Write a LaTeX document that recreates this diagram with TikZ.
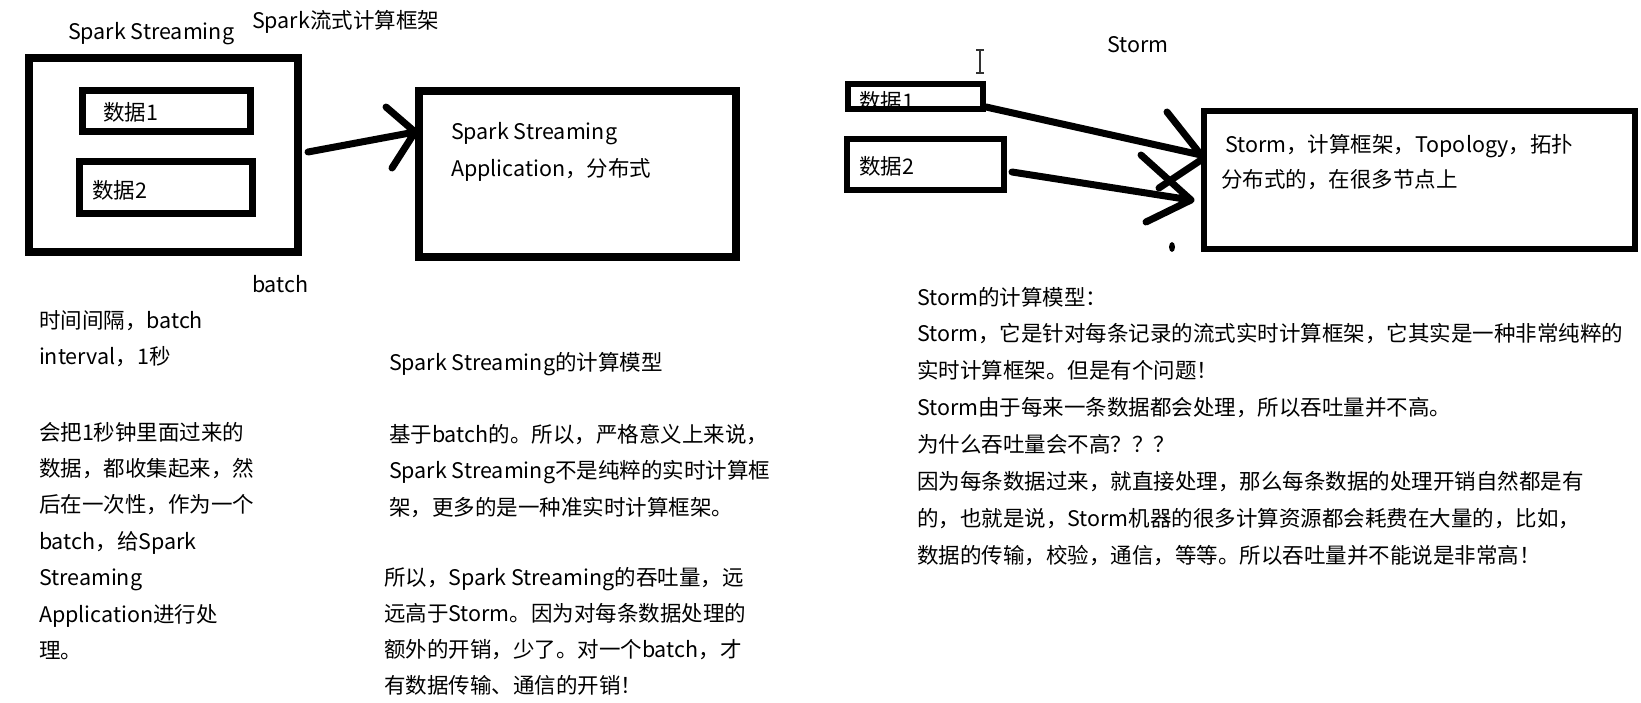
\documentclass[tikz,border=0pt]{standalone}
\usepackage{fontspec}
\setmainfont{Noto Sans CJK SC}
\tikzset{
  boxline/.style={draw=black, line width=#1, inner sep=0pt, outer sep=0pt},
  txt/.style={anchor=base west, inner sep=0pt, outer sep=0pt, align=left, text=black, font=\fontsize{21.5pt}{36.5pt}\selectfont},
  arr/.style={draw=black, line width=7pt, line cap=round, line join=round},
}
\begin{document}
\begin{tikzpicture}[x=1pt,y=-1pt]
\useasboundingbox[fill=white] (0,0) rectangle (1641,703);
% ---------- Spark side ----------
% (multi-line nodes are placed by the baseline of their last line)
\node[txt] (sslabel) at (68,40) {Spark Streaming};
\node[txt] (sparkfw) at (252,29) {Spark流式计算框架};
\node[boxline=8pt, minimum width=269pt, minimum height=194pt] (sbox) at (163.5,155) {};
\node[boxline=7pt, minimum width=168pt, minimum height=41pt] (d1) at (166.5,111) {};
\node[boxline=7pt, minimum width=173pt, minimum height=52pt] (d2) at (166,187.5) {};
\node[txt] (d1t) at (103,121) {数据1};
\node[txt] (d2t) at (92,199) {数据2};
\node[boxline=8pt, minimum width=317pt, minimum height=166pt] (app) at (577.5,174) {};
\node[txt] (appt) at (451,176.5) {Spark Streaming\\Application，分布式};
\node[txt] (batch) at (252,293) {batch};
\draw[arr] ([shift={(10,-3)}]sbox.east) -- ([shift={(-4,-42)}]app.west) coordinate (tip1)
  -- ++(-29,-25) (tip1) -- ++(-23,36);
% ---------- left text ----------
\node[txt] (l1) at (39,364.5) {时间间隔，batch\\interval，1秒};
\node[txt, font=\fontsize{21.5pt}{36.4pt}\selectfont] (l2) at (39,658.4) {会把1秒钟里面过来的\\数据，都收集起来，然\\后在一次性，作为一个\\batch，给Spark\\Streaming\\Application进行处\\理。};
\node[txt] (m0) at (389,370) {Spark Streaming的计算模型};
\node[txt] (m1) at (389,515) {基于batch的。所以，严格意义上来说，\\Spark Streaming不是纯粹的实时计算框\\架，更多的是一种准实时计算框架。};
\node[txt, font=\fontsize{21.5pt}{36.3pt}\selectfont] (m2) at (384,693.9) {所以，Spark Streaming的吞吐量，远\\远高于Storm。因为对每条数据处理的\\额外的开销，少了。对一个batch，才\\有数据传输、通信的开销！};
% ---------- Storm side ----------
\node[txt] (stlabel) at (1107,53) {Storm};
\draw[line width=1.3pt, draw=black!80] (976,50) -- (984,50) (980,50) -- (980,73) (976,73) -- (984,73);
\node[txt] (sd1t) at (859,110) {数据1};
\node[boxline=6pt, minimum width=135pt, minimum height=25pt] (sd1) at (915.5,96.5) {};
\node[boxline=6pt, minimum width=157pt, minimum height=51pt] (sd2) at (925.5,164.5) {};
\node[txt] (sd2t) at (859,175) {数据2};
\node[boxline=6pt, minimum width=431pt, minimum height=138pt] (stbox) at (1419.5,180) {};
\node[txt] (stt) at (1225,153) {Storm，计算框架，Topology，拓扑};
\node[txt] (stt2) at (1221,188) {分布式的，在很多节点上};
\draw[arr] ([shift={(3,10.5)}]sd1.east) -- ([shift={(-3,-25)}]stbox.west) coordinate (tip2)
  -- ++(-34,-43) ([yshift=-5pt]tip2) -- ++(-42,28);
\draw[arr] ([shift={(8,7.5)}]sd2.east) -- ([shift={(-13,20)}]stbox.west) coordinate (tip3)
  -- ++(-50,-45) (tip3) -- ++(-45,22);
\fill[black] (1172,247) ellipse [x radius=3, y radius=5];
\node[txt, font=\fontsize{21.5pt}{36.9pt}\selectfont] (r1) at (917,563.3) {Storm的计算模型：\\Storm，它是针对每条记录的流式实时计算框架，它其实是一种非常纯粹的\\实时计算框架。但是有个问题！\\Storm由于每来一条数据都会处理，所以吞吐量并不高。\\为什么吞吐量会不高？？？\\因为每条数据过来，就直接处理，那么每条数据的处理开销自然都是有\\的，也就是说，Storm机器的很多计算资源都会耗费在大量的，比如，\\数据的传输，校验，通信，等等。所以吞吐量并不能说是非常高！};
\end{tikzpicture}
\end{document}
